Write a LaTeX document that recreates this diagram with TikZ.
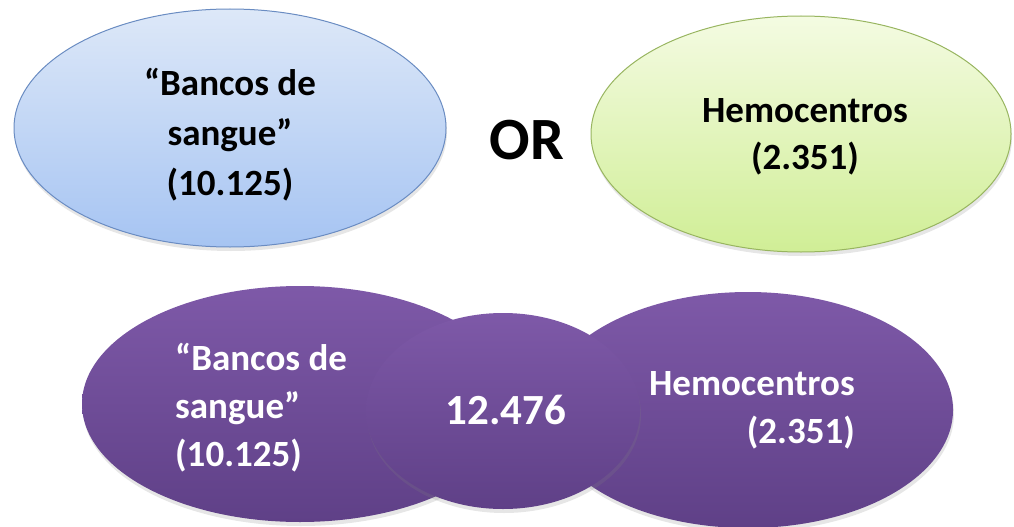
\documentclass[tikz,border=0pt]{standalone}
\usepackage{fontspec}
\setmainfont{Carlito}
\usepackage{tikz}
\usetikzlibrary{shapes,shadows}

\definecolor{blueTop}{HTML}{DDE8F8}
\definecolor{blueBot}{HTML}{A6C4F2}
\definecolor{blueLine}{HTML}{6A8CC2}
\definecolor{greenTop}{HTML}{F4FBE2}
\definecolor{greenBot}{HTML}{D0EE96}
\definecolor{greenLine}{HTML}{98B560}
\definecolor{purpTop}{HTML}{7E59A8}
\definecolor{purpBot}{HTML}{5F4087}

\begin{document}
\begin{tikzpicture} [
                x=1pt, y=-1pt,
                set/.style={ellipse,inner sep=0pt,
                    drop shadow={opacity=0.2,shadow xshift=1pt,shadow yshift=-4pt}},
                query a/.style = {set, top color=blueTop, bottom color=blueBot, draw=blueLine, line width=1pt},
                query b/.style = {set, top color=greenTop, bottom color=greenBot, draw=greenLine, line width=1pt},
                union/.style = {set, top color=purpTop, bottom color=purpBot},
                label/.style = {font=\fontsize{37}{50}\selectfont\bfseries, inner sep=0pt},
                white label/.style = {label, text=white, font=\fontsize{37}{48}\selectfont\bfseries}
            ]
        \useasboundingbox (0,0) rectangle (1014,527);
        % First the two separate searches
            \node[query a, minimum width=432pt, minimum height=238pt] (bancos) at (230,128) {};
            \node[query b, minimum width=420pt, minimum height=236pt] (hemo) at (801,134) {};
            \node[label, align=center] (bancosTxt) at (230,135) {“Bancos\ de\\sangue”\\(10.125)};
            \node[label, align=center, font=\fontsize{37}{47}\selectfont\bfseries] (hemoTxt) at (805,137) {Hemocentros\\(2.351)};
            \node[label, font=\fontsize{60}{60}\selectfont\bfseries] (or) at (527,140) {OR};
        % Then the union
            \foreach \pos/\name/\w/\h in {
                {(300,404)/left/436/236},
                {(748,410)/right/410/236},
            {(503,411)/middle/274/196}}
            \node[union, minimum width=\w pt, minimum height=\h pt] (\name) at \pos {};
            \node[white label, align=left, anchor=north west] (leftTxt) at (175,343) {“Bancos de\\sangue”\\(10.125)};
            \node[white label, font=\fontsize{43}{48}\selectfont\bfseries] (total) at (506,410) {12.476};
            \node[white label, align=right, anchor=north east] (rightTxt) at (855,371) {Hemocentros\\(2.351)};
        \end{tikzpicture}
\end{document}
